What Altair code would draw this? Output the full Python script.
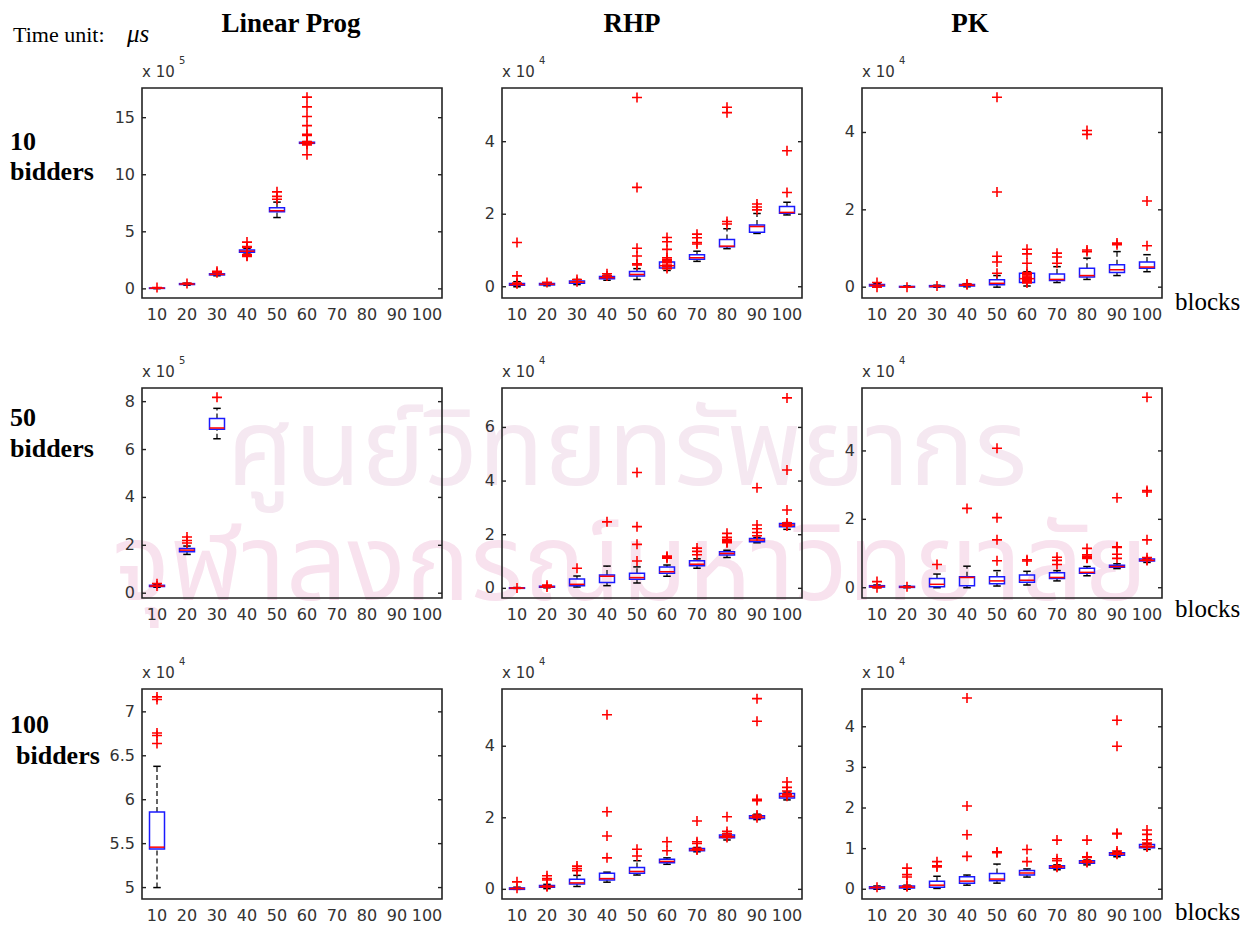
import altair as alt
import pandas as pd

BLOCKS = [10, 20, 30, 40, 50, 60, 70, 80, 90, 100]
BLOCK_LABELS = ["10", "20", "30", "40", "50", "60", "70", "80", "90", "100"]

# ---- box statistics per block: [q1, median, q3, lower whisker, upper whisker] ----
# Linear Prog, 10 bidders (x 10^5)
lp10_box = [[0.04, 0.06, 0.08, 0.02, 0.10], [0.38, 0.42, 0.46, 0.33, 0.50],
            [1.22, 1.27, 1.32, 1.15, 1.40], [3.20, 3.30, 3.40, 3.05, 3.55],
            [6.75, 6.85, 7.10, 6.25, 7.60], [12.75, 12.80, 12.85, 12.70, 12.90]]
lp10_out = [[0.12], [0.48], [1.55, 1.42], [4.10, 3.70, 3.62, 3.00, 2.90, 2.85],
            [8.50, 8.10, 7.85],
            [16.8, 15.95, 15.1, 14.3, 13.55, 13.45, 12.9, 12.7, 12.6, 11.75]]
# Linear Prog, 50 bidders (x 10^5)
lp50_box = [[0.28, 0.30, 0.33, 0.25, 0.36], [1.73, 1.80, 1.87, 1.62, 1.97],
            [6.85, 6.90, 7.30, 6.45, 7.72]]
lp50_out = [[0.40, 0.30], [2.35, 2.20, 2.10], [8.18]]
# Linear Prog, 100 bidders (x 10^4)
lp100_box = [[5.44, 5.46, 5.86, 5.00, 6.38]]
lp100_out = [[7.17, 7.14, 6.76, 6.73, 6.64]]

# RHP, 10 bidders (x 10^4)
rhp10_box = [[0.04, 0.06, 0.09, 0.00, 0.14], [0.05, 0.07, 0.09, 0.03, 0.11],
             [0.10, 0.13, 0.16, 0.06, 0.20], [0.22, 0.25, 0.28, 0.18, 0.32],
             [0.30, 0.34, 0.42, 0.20, 0.50], [0.52, 0.58, 0.68, 0.45, 0.74],
             [0.76, 0.80, 0.88, 0.70, 0.98], [1.10, 1.12, 1.30, 1.05, 1.60],
             [1.50, 1.66, 1.70, 1.47, 2.02], [2.03, 2.05, 2.21, 1.98, 2.33]]
rhp10_out = [[1.22, 0.30, 0.10, 0.08], [0.12], [0.14, 0.20], [0.36, 0.30],
             [5.22, 2.74, 1.06, 0.85, 0.63, 0.60],
             [1.36, 1.24, 1.03, 0.80, 0.76, 0.74, 0.72, 0.70, 0.66, 0.60, 0.55, 0.50],
             [1.45, 1.35, 1.22, 1.18], [4.95, 4.80, 1.80, 1.73],
             [2.28, 2.20, 2.12], [3.75, 2.60]]
# RHP, 50 bidders (x 10^4)
rhp50_box = [[0.00, 0.01, 0.02, 0.00, 0.03], [0.04, 0.06, 0.08, 0.02, 0.10],
             [0.10, 0.15, 0.35, 0.05, 0.46], [0.22, 0.45, 0.50, 0.10, 0.83],
             [0.34, 0.40, 0.56, 0.20, 0.80], [0.56, 0.62, 0.80, 0.45, 0.87],
             [0.84, 0.90, 1.03, 0.75, 1.10], [1.24, 1.30, 1.36, 1.15, 1.42],
             [1.74, 1.80, 1.86, 1.70, 1.90], [2.30, 2.36, 2.42, 2.20, 2.45]]
rhp50_out = [[0.01], [0.12, 0.05], [0.75], [2.48], [4.32, 2.30, 1.64, 1.02],
             [1.20, 1.16, 1.12], [1.50, 1.38, 1.25],
             [2.05, 1.90, 1.82, 1.78, 1.75, 1.72, 1.70],
             [3.75, 2.36, 2.22, 2.08, 1.96],
             [7.10, 4.41, 2.92, 2.44, 2.38, 2.34, 2.32]]
# RHP, 100 bidders (x 10^4)
rhp100_box = [[0.00, 0.02, 0.04, 0.00, 0.06], [0.06, 0.08, 0.11, 0.02, 0.14],
              [0.15, 0.18, 0.28, 0.08, 0.39], [0.26, 0.30, 0.45, 0.20, 0.48],
              [0.45, 0.50, 0.61, 0.40, 0.80], [0.74, 0.78, 0.84, 0.70, 0.88],
              [1.08, 1.10, 1.14, 1.05, 1.17], [1.44, 1.47, 1.52, 1.38, 1.56],
              [1.98, 2.02, 2.06, 1.95, 2.10], [2.55, 2.60, 2.68, 2.50, 2.72]]
rhp100_out = [[0.21, 0.03], [0.38, 0.30, 0.26, 0.09, 0.07], [0.65, 0.58, 0.52],
              [4.88, 2.17, 1.49, 0.88], [1.12, 0.93], [1.33, 1.08],
              [1.91, 1.33, 1.28, 1.15, 1.12, 1.10],
              [2.03, 1.62, 1.55, 1.50, 1.48, 1.45],
              [5.33, 4.70, 2.52, 2.48, 2.08, 2.04, 2.00],
              [3.00, 2.85, 2.75, 2.68, 2.64, 2.60]]

# PK, 10 bidders (x 10^4)
pk10_box = [[0.03, 0.05, 0.07, 0.00, 0.10], [0.00, 0.01, 0.02, 0.00, 0.03],
            [0.01, 0.02, 0.04, 0.00, 0.05], [0.03, 0.05, 0.07, 0.01, 0.09],
            [0.06, 0.10, 0.19, 0.00, 0.30], [0.12, 0.22, 0.36, 0.03, 0.40],
            [0.17, 0.20, 0.34, 0.12, 0.53], [0.26, 0.30, 0.49, 0.20, 0.75],
            [0.38, 0.45, 0.58, 0.30, 0.92], [0.49, 0.52, 0.65, 0.40, 0.84]]
pk10_out = [[0.12, 0.00], [0.00], [0.03], [0.08, 0.06],
            [4.91, 2.46, 0.80, 0.65, 0.36],
            [0.98, 0.86, 0.62, 0.38, 0.35, 0.32, 0.29, 0.26, 0.23, 0.20, 0.17, 0.14, 0.11],
            [0.88, 0.78, 0.62], [4.05, 3.95, 0.96, 0.92], [1.14, 1.10], [2.23, 1.07]]
# PK, 50 bidders (x 10^4)
pk50_box = [[0.02, 0.04, 0.06, 0.00, 0.08], [0.01, 0.02, 0.04, 0.00, 0.05],
            [0.03, 0.10, 0.27, 0.00, 0.40], [0.06, 0.30, 0.32, 0.00, 0.63],
            [0.12, 0.20, 0.32, 0.05, 0.50], [0.16, 0.22, 0.37, 0.08, 0.48],
            [0.27, 0.30, 0.44, 0.20, 0.50], [0.42, 0.45, 0.57, 0.35, 0.62],
            [0.60, 0.62, 0.66, 0.56, 0.70], [0.78, 0.80, 0.84, 0.74, 0.86]]
pk50_out = [[0.18, 0.00], [0.03], [0.68], [2.32], [4.08, 2.05, 1.40, 0.79],
            [0.82, 0.78], [0.89, 0.80, 0.68], [1.15, 0.96, 0.92, 0.88, 0.86],
            [2.63, 1.20, 1.18, 0.98, 0.86],
            [5.57, 2.84, 2.80, 1.40, 0.88, 0.82, 0.80]]
# PK, 100 bidders (x 10^4)
pk100_box = [[0.02, 0.04, 0.06, 0.00, 0.08], [0.03, 0.05, 0.08, 0.00, 0.10],
             [0.05, 0.10, 0.20, 0.02, 0.32], [0.15, 0.20, 0.31, 0.10, 0.35],
             [0.21, 0.25, 0.39, 0.15, 0.62], [0.35, 0.40, 0.46, 0.30, 0.50],
             [0.52, 0.55, 0.58, 0.48, 0.60], [0.64, 0.67, 0.70, 0.60, 0.72],
             [0.84, 0.87, 0.90, 0.80, 0.93], [1.02, 1.05, 1.10, 0.98, 1.12]]
pk100_out = [[0.05], [0.52, 0.36, 0.30, 0.08, 0.06], [0.68, 0.58, 0.55],
             [4.71, 2.05, 1.34, 0.81], [0.92, 0.90], [0.98, 0.68],
             [1.21, 0.75, 0.70, 0.58, 0.56, 0.54],
             [1.21, 0.80, 0.78, 0.70, 0.68, 0.66],
             [4.16, 3.52, 1.38, 1.36, 0.94, 0.90, 0.88, 0.86],
             [1.46, 1.35, 1.22, 1.14, 1.10, 1.06, 1.04]]

# ---- axis settings per panel ----
YDOM = {
    "lp10": [-0.8, 17.6], "rhp10": [-0.31, 5.48], "pk10": [-0.28, 5.15],
    "lp50": [-0.2, 8.57], "rhp50": [-0.36, 7.47], "pk50": [-0.3, 5.84],
    "lp100": [4.87, 7.26], "rhp100": [-0.27, 5.6], "pk100": [-0.24, 4.93],
}
YTICKS = {
    "lp10": [0, 5, 10, 15], "rhp10": [0, 2, 4], "pk10": [0, 2, 4],
    "lp50": [0, 2, 4, 6, 8], "rhp50": [0, 2, 4, 6], "pk50": [0, 2, 4],
    "lp100": [5, 5.5, 6, 6.5, 7], "rhp100": [0, 2, 4], "pk100": [0, 1, 2, 3, 4],
}
EXPONENT = {"lp10": "5", "lp50": "5", "lp100": "4", "rhp10": "4", "rhp50": "4",
            "rhp100": "4", "pk10": "4", "pk50": "4", "pk100": "4"}

# ---- layout (pixels) ----
COL_X = [142, 502, 862]
ROW_Y = [88, 388, 689]
PW, PH = 300, 210
XDOM = [5, 105]
PX_PER_UNIT = PW / (XDOM[1] - XDOM[0])

TICK_FONT = "DejaVu Sans"
TICK_COLOR = "#333333"
SERIF = "Liberation Serif"
PLUS = "M-1,0L1,0M0,-1L0,1"


def fmt(v):
    return str(int(v)) if float(v).is_integer() else str(v)


def panel(key, box, outs, col, row):
    x0, y0 = COL_X[col], ROW_Y[row]
    ydom = YDOM[key]
    xs = alt.Scale(domain=XDOM, range=[x0, x0 + PW], nice=False, zero=False)
    ys = alt.Scale(domain=ydom, range=[y0 + PH, y0], nice=False, zero=False)
    n = len(box)
    half_box = 2.5
    half_cap = 1.25
    bdf = pd.DataFrame({
        "block": BLOCKS[:n],
        "q1": [b[0] for b in box], "med": [b[1] for b in box], "q3": [b[2] for b in box],
        "lo": [b[3] for b in box], "hi": [b[4] for b in box],
    })
    bdf["left"] = bdf["block"] - half_box
    bdf["right"] = bdf["block"] + half_box
    bdf["capl"] = bdf["block"] - half_cap
    bdf["capr"] = bdf["block"] + half_cap

    odf = pd.DataFrame([{"block": BLOCKS[i], "v": v} for i, vs in enumerate(outs) for v in vs])

    X = lambda f: alt.X(f, type="quantitative", scale=xs, axis=None)
    Y = lambda f: alt.Y(f, type="quantitative", scale=ys, axis=None)

    base = alt.Chart(bdf)
    wh_up = base.mark_rule(color="black", strokeWidth=1.2, strokeDash=[5, 3]).encode(
        x=X("block"), y=Y("q3"), y2="hi")
    wh_lo = base.mark_rule(color="black", strokeWidth=1.2, strokeDash=[5, 3]).encode(
        x=X("block"), y=Y("lo"), y2="q1")
    cap_up = base.mark_rule(color="black", strokeWidth=1.5).encode(
        x=X("capl"), x2="capr", y=Y("hi"))
    cap_lo = base.mark_rule(color="black", strokeWidth=1.5).encode(
        x=X("capl"), x2="capr", y=Y("lo"))
    boxes = base.mark_rect(fill="transparent", stroke="#1a1aff", strokeWidth=1.5).encode(
        x=X("left"), x2="right", y=Y("q1"), y2="q3")
    med = base.mark_rule(color="#ff0000", strokeWidth=1.5).encode(
        x=X("left"), x2="right", y=Y("med"))
    pts = alt.Chart(odf).mark_point(shape=PLUS, size=100, filled=False, color="#ff0000",
                                    strokeWidth=1.6, opacity=1).encode(
        x=X("block"), y=Y("v"))

    # frame
    fdf = pd.DataFrame({"a": [XDOM[0]], "b": [XDOM[1]], "c": [ydom[0]], "d": [ydom[1]]})
    frame = alt.Chart(fdf).mark_rect(fill="transparent", stroke="#222222", strokeWidth=1.6).encode(
        x=X("a"), x2="b", y=Y("c"), y2="d")

    # y ticks (inside, both sides) and labels
    tlen = 4 / PX_PER_UNIT
    tdf = pd.DataFrame({"v": YTICKS[key], "lab": [fmt(t) for t in YTICKS[key]]})
    tdf["l0"] = XDOM[0]
    tdf["l1"] = XDOM[0] + tlen
    tdf["r0"] = XDOM[1] - tlen
    tdf["r1"] = XDOM[1]
    tl = alt.Chart(tdf).mark_rule(color="#222222", strokeWidth=1.4).encode(
        x=X("l0"), x2="l1", y=Y("v"))
    tr = alt.Chart(tdf).mark_rule(color="#222222", strokeWidth=1.4).encode(
        x=X("r0"), x2="r1", y=Y("v"))
    ylab = alt.Chart(tdf).mark_text(align="right", baseline="middle", dx=-7, font=TICK_FONT,
                                    fontSize=16, color=TICK_COLOR).encode(
        x=X("l0"), y=Y("v"), text="lab:N")

    xdf = pd.DataFrame({"block": BLOCKS, "lab": BLOCK_LABELS})
    xdf["bottom"] = ydom[0]
    xlab = alt.Chart(xdf).mark_text(align="center", baseline="middle", dy=17, font=TICK_FONT,
                                    fontSize=16, color=TICK_COLOR).encode(
        x=X("block"), y=Y("bottom"), text="lab:N")

    edf = pd.DataFrame({"x": [XDOM[0]], "y": [ydom[1]], "base": ["x 10"], "exp": [EXPONENT[key]]})
    e1 = alt.Chart(edf).mark_text(align="left", baseline="alphabetic", dy=-11, font=TICK_FONT,
                                  fontSize=15, color=TICK_COLOR).encode(
        x=X("x"), y=Y("y"), text="base:N")
    e2 = alt.Chart(edf).mark_text(align="left", baseline="alphabetic", dx=37, dy=-24,
                                  font=TICK_FONT, fontSize=10, color=TICK_COLOR).encode(
        x=X("x"), y=Y("y"), text="exp:N")

    return alt.layer(frame, wh_up, wh_lo, cap_up, cap_lo, boxes, med, pts,
                     tl, tr, ylab, xlab, e1, e2)


DUMMY = pd.DataFrame({"k": [0]})


def label(text, x, y, size, font=SERIF, weight="normal", style="normal", align="left",
          color="black"):
    return alt.Chart(DUMMY).mark_text(
        font=font, fontSize=size, fontWeight=weight, fontStyle=style, align=align,
        baseline="alphabetic", color=color).encode(
        x=alt.value(x), y=alt.value(y), text=alt.value(text))


THAI = "Noto Sans Thai, Loma, Garuda, sans-serif"
watermark = [
    label("ศูนย์วิทยทรัพยากร", 627, 485, 108, font=THAI, align="center", color="#f5e8f1"),
    label("จุฬาลงกรณ์มหาวิทยาลัย", 630, 600, 108, font=THAI, align="center", color="#f8e2ee"),
]

annotations = [
    label("Time unit:", 13, 42, 22),
    label("μs", 127, 42, 25, style="italic"),
    label("Linear Prog", 291, 32, 27, weight="bold", align="center"),
    label("RHP", 632, 32, 27, weight="bold", align="center"),
    label("PK", 970, 32, 27, weight="bold", align="center"),
    label("10", 10, 150, 26, weight="bold"),
    label("bidders", 10, 180, 26, weight="bold"),
    label("50", 10, 426, 26, weight="bold"),
    label("bidders", 10, 457, 26, weight="bold"),
    label("100", 10, 733, 26, weight="bold"),
    label("bidders", 16, 764, 26, weight="bold"),
    label("blocks", 1175, 310, 25),
    label("blocks", 1175, 617, 25),
    label("blocks", 1175, 920, 25),
]

panels = [
    panel("lp10", lp10_box, lp10_out, 0, 0),
    panel("rhp10", rhp10_box, rhp10_out, 1, 0),
    panel("pk10", pk10_box, pk10_out, 2, 0),
    panel("lp50", lp50_box, lp50_out, 0, 1),
    panel("rhp50", rhp50_box, rhp50_out, 1, 1),
    panel("pk50", pk50_box, pk50_out, 2, 1),
    panel("lp100", lp100_box, lp100_out, 0, 2),
    panel("rhp100", rhp100_box, rhp100_out, 1, 2),
    panel("pk100", pk100_box, pk100_out, 2, 2),
]

chart = alt.layer(*watermark, *annotations, *panels).resolve_scale(
    x="independent", y="independent"
).properties(
    width=1259, height=925,
    autosize=alt.AutoSizeParams(type="none"),
    padding=0,
    background="white",
).configure_view(stroke=None)

chart.save("out.html", embed_options={"renderer": "svg", "actions": False})
